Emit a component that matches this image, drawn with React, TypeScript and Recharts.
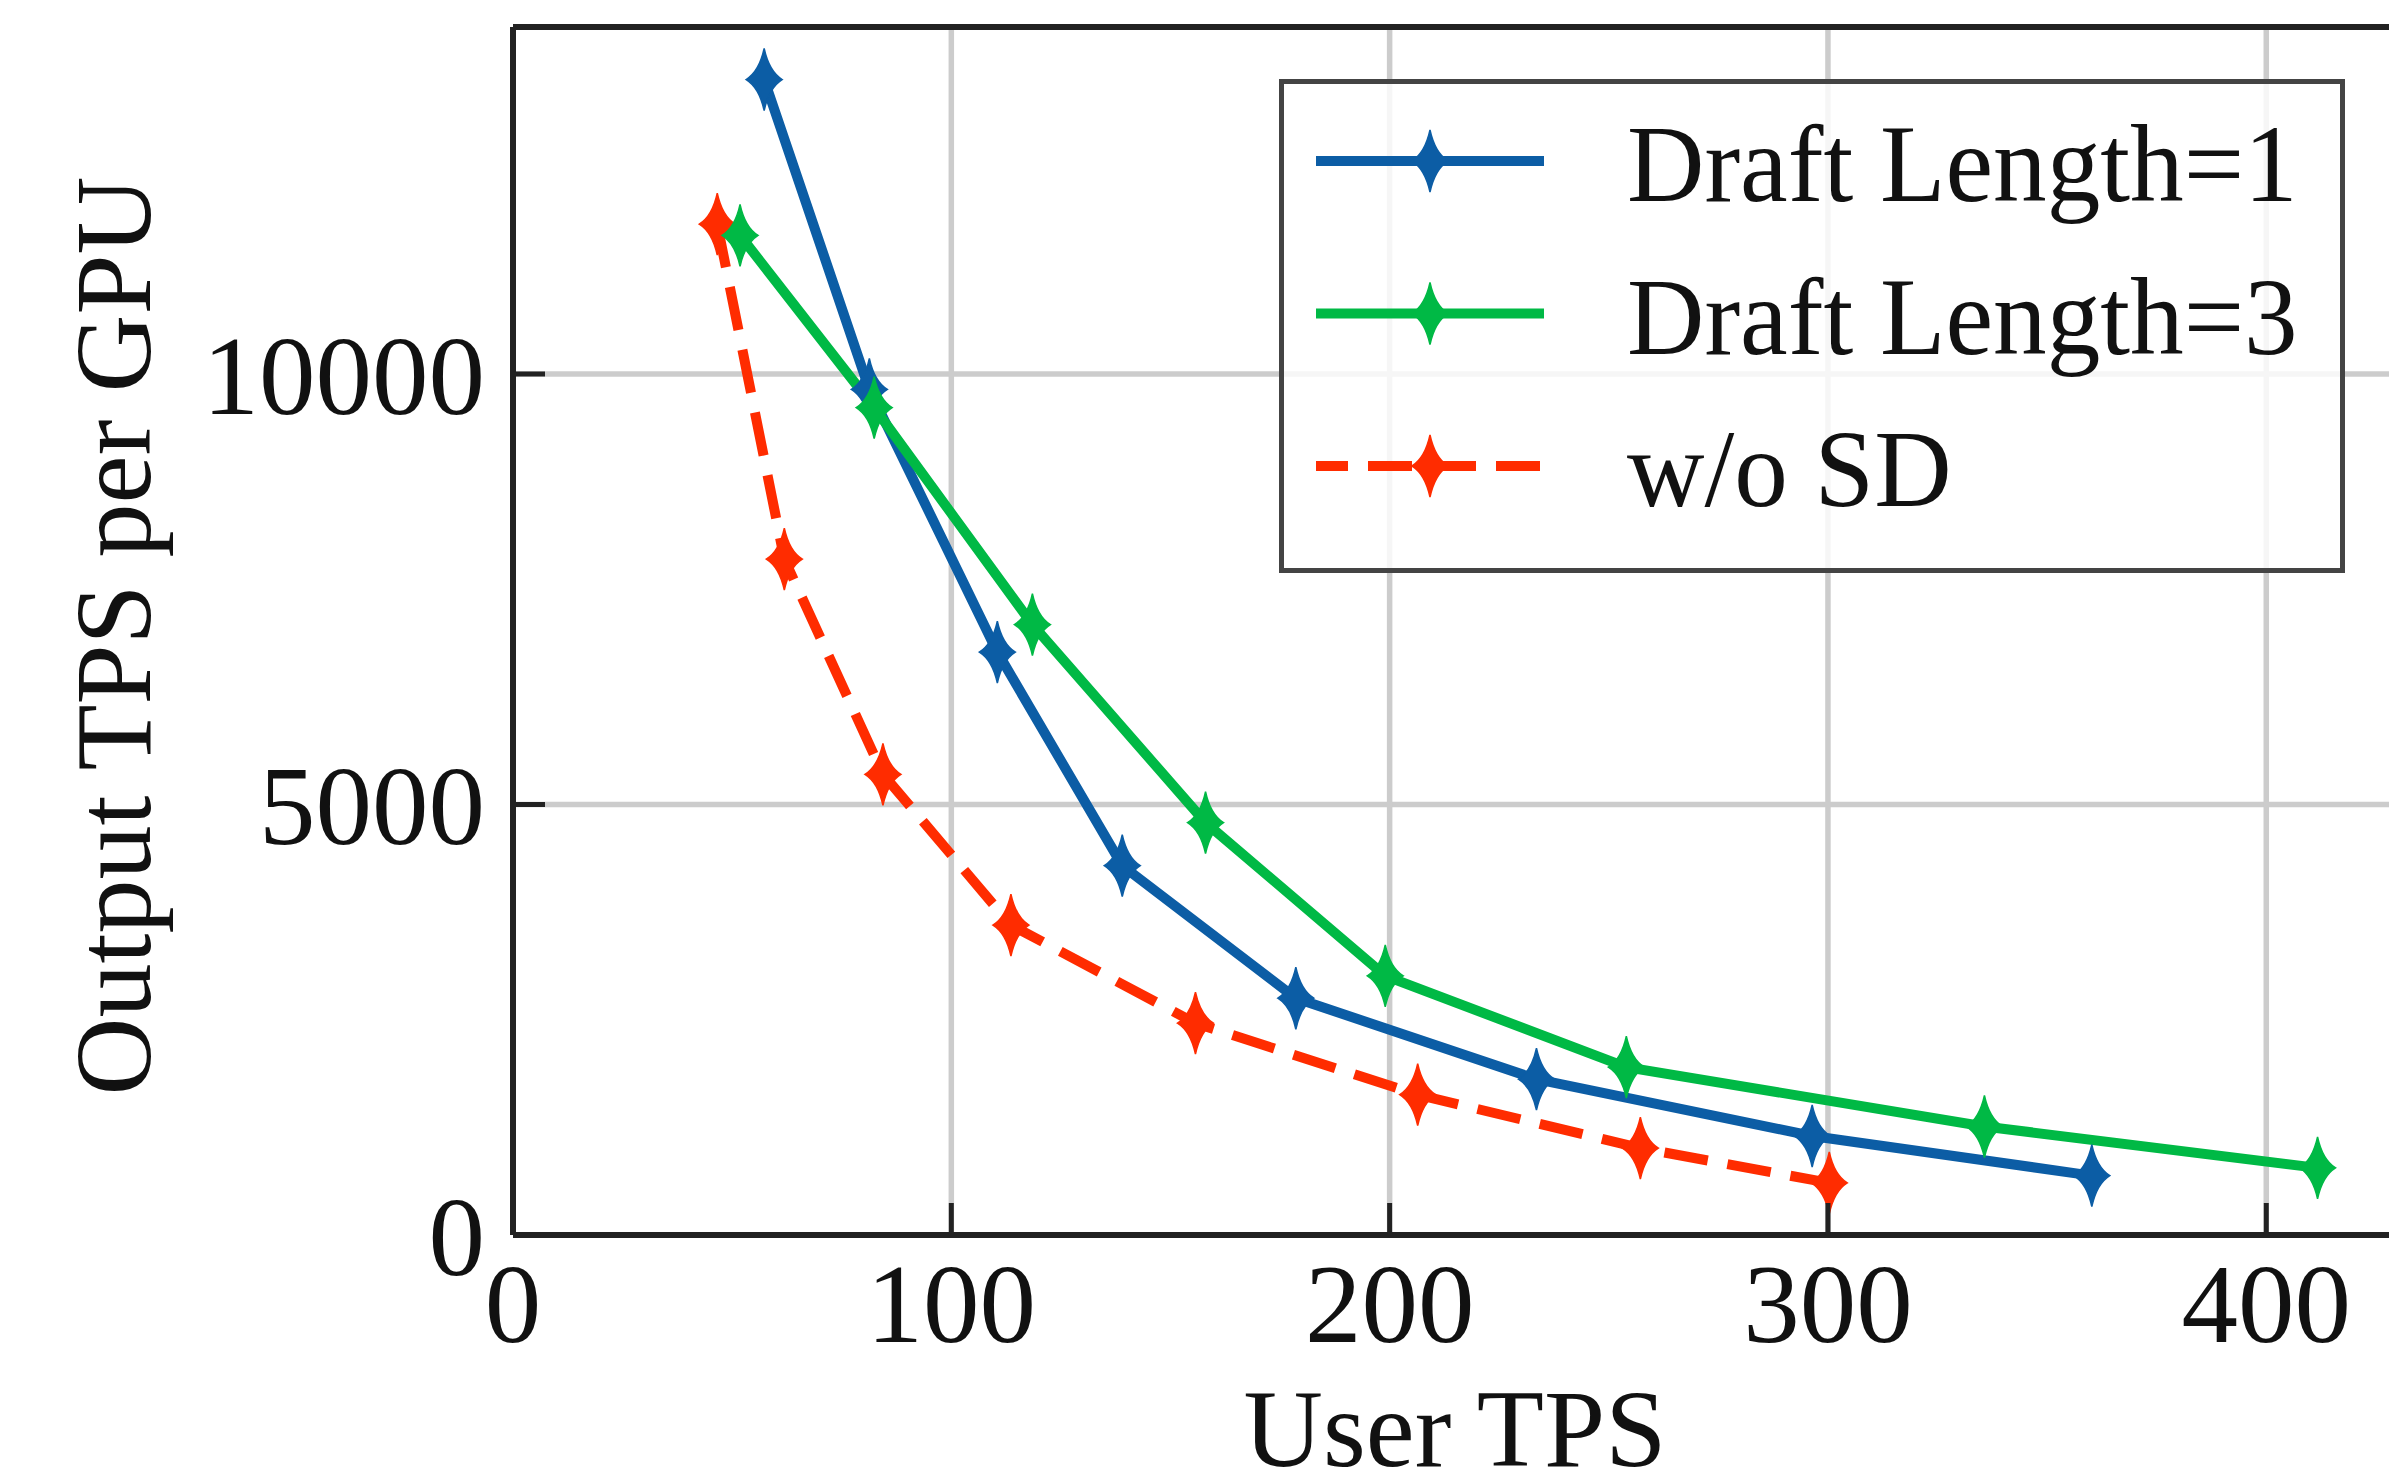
import React from 'react';
import { LineChart, Line, XAxis, YAxis, CartesianGrid, Legend, ReferenceLine, Label } from 'recharts';

// values
const draft1X = [57.3, 81.3, 110.5, 139.0, 178.6, 233.5, 296.4, 360.2];
const draft1Y = [13420, 9820, 6770, 4290, 2750, 1810, 1150, 690];
const draft3X = [51.8, 82.4, 118.5, 158.0, 199.0, 254.0, 335.7, 411.7];
const draft3Y = [11610, 9610, 7090, 4790, 3010, 1950, 1260, 780];
const noSdX = [46.6, 61.9, 84.4, 113.6, 155.7, 206.4, 257.2, 300.3];
const noSdY = [11740, 7850, 5350, 3600, 2460, 1630, 1010, 605];

const xTicks = [0, 100, 200, 300, 400];
const yTicks = [0, 5000, 10000];
const xMax = 428;
const yMax = 14030;

const FONT = '"Liberation Serif", "DejaVu Serif", serif';

const toPoints = (xs: number[], ys: number[]) => xs.map((x, i) => ({ x, y: ys[i] }));

const series = [
    { name: 'Draft Length=1', color: '#0C5DA5', dash: undefined, data: toPoints(draft1X, draft1Y) },
    { name: 'Draft Length=3', color: '#00B945', dash: undefined, data: toPoints(draft3X, draft3Y) },
    { name: 'w/o SD', color: '#FF2C00', dash: '44 20', data: toPoints(noSdX, noSdY) },
];

// draw order: red, blue, green (green sits on top in the reference)
const drawOrder = [2, 0, 1];

const LW = 10;
const diamond = 'M0,-31 Q5,-8 18,0 Q5,8 0,31 Q-5,8 -18,0 Q-5,-8 0,-31Z';

const makeDot = (color: string) => (p: any) => (
    <path
        key={p.index}
        d={diamond}
        transform={`translate(${p.cx},${p.cy})`}
        fill={color}
        stroke={color}
        strokeWidth={1.5}
    />
);

const XTick = ({ x, y, payload }: any) => (
    <g>
        <line x1={x} x2={x} y1={y} y2={y - 32} stroke="#222" strokeWidth={5} />
        <text x={x} y={y + 107} textAnchor="middle" fontFamily={FONT} fontSize={113} fill="#111">
            {payload.value}
        </text>
    </g>
);

const YTick = ({ x, y, payload }: any) => (
    <g>
        <line x1={x} x2={x + 32} y1={y} y2={y} stroke="#222" strokeWidth={5} />
        <text x={x - 28} y={y + 40} textAnchor="end" fontFamily={FONT} fontSize={113} fill="#111">
            {payload.value}
        </text>
    </g>
);

const LegendBox = () => (
    <svg width={1066} height={494} style={{ display: 'block' }}>
        <rect x={2.5} y={2.5} width={1061} height={489} fill="rgba(255,255,255,0.82)" stroke="#444" strokeWidth={5} />
        {series.map((s, i) => {
            const cy = 82 + i * 152.5;
            return (
                <g key={s.name}>
                    <line x1={37} x2={265} y1={cy} y2={cy} stroke={s.color} strokeWidth={LW} strokeDasharray={s.dash} strokeDashoffset={s.dash ? 12 : 0} />
                    <path d={diamond} transform={`translate(151,${cy})`} fill={s.color} stroke={s.color} strokeWidth={1.5} />
                    <text transform={`translate(348,${cy + 40}) scale(0.966,1)`} fontFamily={FONT} fontSize={111} fill="#111">
                        {s.name}
                    </text>
                </g>
            );
        })}
    </svg>
);

const App: React.FC = () => {
    return (
        <div style={{ position: 'absolute', left: 0, top: 0, background: '#fff' }}>
            <LineChart width={2389} height={1475} margin={{ top: 27, right: 0, bottom: 0, left: 0 }}>
                <CartesianGrid stroke="#cccccc" strokeWidth={5.5} horizontalValues={yTicks} verticalValues={xTicks} />
                <XAxis
                    type="number"
                    dataKey="x"
                    domain={[0, xMax]}
                    ticks={xTicks}
                    allowDataOverflow
                    height={240}
                    tickSize={0}
                    tickMargin={0}
                    tickLine={false}
                    axisLine={{ stroke: '#222', strokeWidth: 6 }}
                    tick={<XTick />}
                    interval={0}
                >
                    <Label
                        content={() => (
                            <text x={1455} y={1466} textAnchor="middle" fontFamily={FONT} fontSize={110} fill="#111">
                                User TPS
                            </text>
                        )}
                    />
                </XAxis>
                <YAxis
                    type="number"
                    dataKey="y"
                    domain={[0, yMax]}
                    ticks={yTicks}
                    allowDataOverflow
                    width={513}
                    tickSize={0}
                    tickMargin={0}
                    tickLine={false}
                    axisLine={{ stroke: '#222', strokeWidth: 6 }}
                    tick={<YTick />}
                    interval={0}
                >
                    <Label
                        content={() => (
                            <text
                                x={150}
                                y={636}
                                transform="rotate(-90 150 636)"
                                textAnchor="middle"
                                fontFamily={FONT}
                                fontSize={108}
                                fill="#111"
                            >
                                Output TPS per GPU
                            </text>
                        )}
                    />
                </YAxis>
                <ReferenceLine y={yMax} stroke="#222" strokeWidth={6} />
                {drawOrder.map((idx) => {
                    const s = series[idx];
                    return (
                        <Line
                            key={s.name}
                            data={s.data}
                            dataKey="y"
                            name={s.name}
                            type="linear"
                            stroke={s.color}
                            strokeWidth={LW}
                            strokeDasharray={s.dash}
                            dot={makeDot(s.color)}
                            activeDot={false}
                            isAnimationActive={false}
                        />
                    );
                })}
                <Legend
                    layout="horizontal"
                    verticalAlign="middle"
                    align="center"
                    content={() => <LegendBox />}
                    wrapperStyle={{ position: 'absolute', left: 1279, top: 79, width: 1066, height: 494 }}
                />
            </LineChart>
        </div>
    );
};

export default App;
